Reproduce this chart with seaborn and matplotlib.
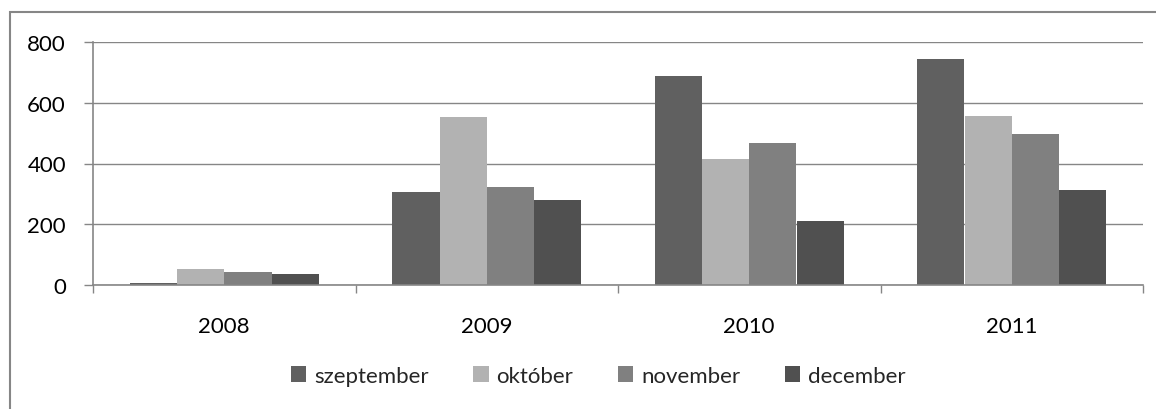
import matplotlib
matplotlib.use("Agg")
import matplotlib.pyplot as plt
import seaborn as sns
import pandas as pd
from matplotlib.patches import Rectangle

years = ["2008", "2009", "2010", "2011"]
months = ["szeptember", "október", "november", "december"]
szeptember = [7, 307, 688, 744]
oktober = [53, 553, 415, 556]
november = [43, 322, 467, 497]
december = [36, 280, 211, 313]
yticks = [0, 200, 400, 600, 800]
colors = ["#606060", "#b2b2b2", "#808080", "#505050"]

rows = []
for m, vals in zip(months, [szeptember, oktober, november, december]):
    for y, v in zip(years, vals):
        rows.append({"year": y, "month": m, "value": v})
df = pd.DataFrame(rows)

sns.set_theme(style="white")
plt.rcParams["font.family"] = ["Lato", "DejaVu Sans"]

W, H = 1156, 410
fig = plt.figure(figsize=(W / 100, H / 100), dpi=100)
ax = fig.add_axes([93 / W, 1 - 286 / H, (1143 - 93) / W, (286 - 43) / H])

sns.barplot(data=df, x="year", y="value", hue="month", order=years, hue_order=months,
            palette=colors, saturation=1, width=0.72, ax=ax, linewidth=0, legend=True)

grid_c = "#868686"
fs = 16
ax.set_ylim(0, 800)
ax.set_xlim(-0.5, 3.5)
ax.set_yticks(yticks)
ax.set_yticklabels([str(t) for t in yticks])
ax.yaxis.grid(True, color=grid_c, linewidth=1.0)
ax.set_axisbelow(True)
for s in ["top", "right"]:
    ax.spines[s].set_visible(False)
for s in ["left", "bottom"]:
    ax.spines[s].set_color(grid_c)
    ax.spines[s].set_linewidth(1.2)
ax.set_xlabel("")
ax.set_ylabel("")
ax.tick_params(axis="y", direction="out", length=6.5, width=1, color=grid_c,
               left=True, labelsize=fs, labelcolor="#000000", pad=13)
ax.tick_params(axis="x", which="major", length=0, labelsize=fs, labelcolor="#000000", pad=22)
ax.set_xticks([-0.5, 0.5, 1.5, 2.5, 3.5], minor=True)
ax.tick_params(axis="x", which="minor", direction="out", length=6, width=1, color=grid_c, bottom=True)

handles, labels = ax.get_legend_handles_labels()
ax.legend_.remove()
fig.legend(handles, labels, loc="center", bbox_to_anchor=(598 / W, 1 - 377 / H), ncol=4,
           frameon=False, fontsize=fs, handlelength=0.7, handleheight=0.7,
           handletextpad=0.35, columnspacing=2.0)

fig.patches.append(Rectangle((10 / W, -0.2), 1.5, (410 - 13) / H + 0.2, transform=fig.transFigure,
                             fill=False, edgecolor=grid_c, linewidth=1.5))

fig.savefig("out.png", dpi=100)
